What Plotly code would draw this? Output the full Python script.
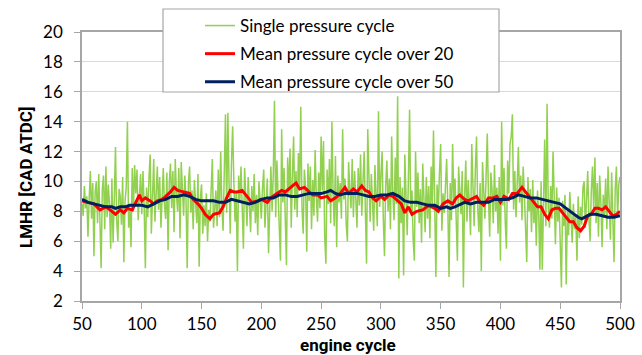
import plotly.graph_objects as go

# ---------------- data ----------------
cycle_start = 50
single = [
    8.5, 7.7, 9.7, 8.2, 9.0, 6.3, 8.8, 10.7, 7.5, 9.9,
    5.0, 9.3, 10.0, 7.2, 10.5, 8.0, 4.2, 9.5, 10.4, 6.8,
    11.0, 7.6, 9.8, 8.4, 5.5, 10.2, 5.9, 8.8, 12.3, 7.4,
    6.0, 9.5, 9.0, 7.1, 10.3, 4.6, 8.7, 9.6, 14.0, 6.9,
    8.2, 5.6, 10.9, 8.0, 11.1, 9.2, 10.8, 7.4, 9.5, 10.5,
    7.8, 10.7, 8.3, 4.2, 9.6, 7.6, 10.2, 11.8, 6.5, 9.0,
    11.5, 7.3, 9.8, 11.0, 8.1, 10.3, 6.9, 9.7, 10.9, 8.4,
    7.5, 10.6, 5.4, 9.9, 11.2, 8.2, 10.7, 6.6, 11.5, 9.1,
    8.0, 10.9, 6.2, 11.3, 9.5, 7.7, 10.4, 8.8, 4.2, 9.9,
    11.0, 7.9, 9.4, 6.8, 10.1, 8.6, 7.2, 10.5, 4.3, 8.9,
    9.8, 6.5, 8.4, 7.0, 9.2, 6.0, 8.1, 7.3, 9.0, 11.5,
    6.9, 8.6, 9.4, 7.0, 10.8, 7.6, 12.0, 8.3, 6.7, 10.6,
    14.5, 7.9, 14.6, 9.8, 6.5, 11.2, 13.7, 10.0, 7.3, 9.4,
    4.0, 10.4, 8.6, 11.0, 7.8, 5.5, 10.9, 9.2, 7.0, 10.3,
    8.4, 6.6, 9.7, 8.0, 10.5, 7.2, 9.1, 6.4, 10.0, 8.8,
    7.5, 9.6, 10.8, 6.9, 8.5, 10.2, 5.2, 9.3, 11.0, 8.0,
    10.5, 15.4, 7.6, 11.4, 9.0, 6.8, 4.7, 13.5, 8.6, 10.9,
    7.4, 4.4, 11.6, 9.2, 12.2, 6.9, 10.4, 13.0, 8.1, 10.7,
    7.6, 11.9, 9.4, 15.0, 8.3, 6.5, 10.8, 9.6, 5.3, 11.2,
    8.7, 11.0, 6.8, 10.1, 7.7, 12.1, 9.0, 7.3, 10.6, 8.2,
    13.0, 9.4, 12.7, 6.3, 4.5, 10.8, 8.5, 11.5, 7.2, 14.0,
    9.3, 7.0, 11.7, 5.6, 10.4, 8.6, 9.9, 7.5, 13.5, 8.8,
    10.2, 7.1, 6.0, 11.3, 9.5, 8.2, 11.5, 7.6, 10.7, 9.0,
    6.9, 10.9, 8.4, 11.8, 7.7, 9.9, 12.0, 8.1, 4.5, 13.5,
    9.2, 7.3, 10.5, 8.6, 6.7, 11.1, 9.4, 7.0, 14.7, 8.3,
    10.4, 12.0, 7.6, 5.0, 9.7, 11.4, 8.0, 10.2, 6.8, 13.0,
    9.1, 7.4, 11.6, 8.5, 15.7, 3.5, 10.3, 7.2, 9.6, 3.7,
    11.8, 8.9, 6.4, 10.1, 14.8, 7.8, 9.4, 6.1, 4.7, 12.0,
    8.3, 10.6, 7.2, 9.5, 5.9, 11.2, 8.0, 6.6, 10.3, 7.5,
    9.7, 6.2, 11.0, 8.4, 13.4, 7.0, 3.6, 9.8, 8.1, 10.6,
    12.5, 6.7, 9.2, 7.9, 10.4, 11.5, 8.3, 3.6, 9.9, 7.4,
    12.5, 8.6, 10.2, 6.9, 4.7, 11.0, 9.3, 7.8, 10.7, 2.9,
    9.0, 11.4, 7.3, 10.1, 8.5, 6.4, 12.5, 9.7, 7.0, 10.8,
    13.0, 8.2, 6.6, 9.9, 4.0, 11.3, 8.7, 7.5, 10.4, 13.2,
    8.9, 6.3, 10.6, 9.4, 7.2, 11.1, 8.0, 9.6, 6.5, 10.3,
    4.7, 14.0, 8.4, 10.9, 7.3, 5.5, 11.4, 9.2, 12.5, 13.0,
    14.5, 8.1, 10.7, 7.6, 9.8, 12.3, 8.6, 10.4, 7.4, 11.0,
    9.2, 6.8, 4.6, 10.3, 8.0, 9.5, 6.6, 10.1, 7.2, 8.8,
    5.7, 9.4, 7.8, 4.1, 10.0, 4.1, 8.5, 12.8, 7.0, 15.2,
    8.3, 6.9, 9.7, 7.5, 12.0, 8.2, 5.8, 9.6, 7.3, 8.9,
    6.5, 2.9, 8.7, 7.0, 9.1, 3.1, 8.0, 6.4, 9.3, 7.0,
    5.9, 8.5, 6.8, 7.6, 4.7, 9.0, 6.2, 8.3, 7.1, 9.6,
    10.0, 6.9, 8.8, 10.7, 7.5, 6.0, 9.4, 11.0, 8.1, 11.6,
    7.2, 9.9, 6.3, 10.4, 8.6, 5.6, 9.1, 7.7, 10.2, 6.8,
    11.0, 8.4, 6.1, 10.6, 7.3, 4.6, 9.5, 11.0, 7.6, 9.8,
    10.3,
]
single_cycles = list(range(cycle_start, cycle_start + len(single)))

mean20_cycles = [50, 55, 60, 65, 70, 75, 78, 82, 85, 88, 92, 95, 98, 100, 103, 107,
                 110, 113, 117, 120, 124, 127, 130, 135, 140, 143, 147, 150, 153, 157,
                 160, 165, 168, 171, 174, 177, 180, 184, 188, 192, 197, 200, 205, 208,
                 213, 217, 220, 225, 229, 232, 236, 240, 243, 247, 250, 255, 258, 262,
                 266, 270, 273, 277, 280, 284, 287, 290, 293, 296, 300, 303, 307, 310,
                 313, 317, 320, 323, 326, 330, 335, 340, 345, 348, 352, 356, 360, 363,
                 366, 370, 373, 377, 380, 383, 386, 390, 394, 397, 400, 403, 407, 410,
                 414, 418, 421, 424, 428, 431, 434, 437, 440, 443, 446, 449, 452, 455,
                 458, 461, 464, 467, 470, 473, 476, 479, 482, 485, 488, 491, 494, 497, 500]
mean20 = [8.7, 8.6, 8.5, 8.1, 8.3, 8.0, 7.8, 8.1, 7.9, 8.2, 8.1, 8.6, 9.1, 8.7, 8.9, 8.7,
          8.5, 8.7, 8.8, 9.0, 9.3, 9.6, 9.4, 9.3, 9.2, 8.8, 8.5, 8.2, 7.8, 7.5,
          7.8, 7.9, 8.3, 8.9, 9.4, 9.3, 9.3, 9.4, 9.0, 8.6, 8.7, 8.8, 8.6, 8.9,
          9.2, 9.4, 9.3, 9.6, 9.9, 9.5, 9.6, 9.3, 9.1, 9.1, 8.9, 9.0, 8.7, 8.9,
          9.2, 9.6, 9.2, 9.5, 9.3, 9.7, 9.4, 9.3, 8.9, 8.7, 9.0, 8.8, 9.1, 9.0,
          8.8, 8.5, 7.9, 8.3, 7.8, 8.0, 8.1, 8.4, 8.2, 8.0, 8.5, 8.7, 8.5, 8.9,
          9.1, 8.8, 8.7, 8.9, 9.0, 8.6, 8.4, 8.9, 8.9, 9.0, 8.6, 9.0, 8.8, 9.2,
          9.2, 9.6, 9.3, 9.0, 8.6, 8.3, 8.3, 7.8, 7.5, 8.1, 8.2, 8.2, 7.9, 7.6,
          7.3, 7.3, 6.9, 6.7, 7.0, 7.7, 7.8, 8.2, 8.2, 8.1, 8.3, 8.0, 7.7, 7.8, 8.0]

mean50_cycles = [50, 55, 60, 65, 70, 75, 78, 82, 86, 90, 95, 100, 105, 110, 115, 120,
                 125, 130, 135, 140, 145, 150, 155, 160, 165, 170, 175, 180, 185, 190,
                 195, 200, 205, 210, 215, 220, 225, 230, 235, 240, 245, 250, 255, 258,
                 262, 266, 270, 275, 280, 285, 290, 295, 300, 305, 310, 315, 320, 325,
                 330, 335, 340, 345, 350, 355, 358, 362, 365, 370, 375, 380, 385, 390,
                 395, 400, 405, 410, 415, 420, 425, 430, 435, 440, 445, 450, 455, 460,
                 465, 468, 472, 475, 480, 485, 490, 495, 500]
mean50 = [8.8, 8.6, 8.5, 8.4, 8.3, 8.3, 8.2, 8.3, 8.3, 8.4, 8.4, 8.4, 8.3, 8.5, 8.7, 8.8,
          9.0, 9.0, 9.1, 9.0, 8.8, 8.7, 8.7, 8.7, 8.6, 8.6, 8.8, 8.7, 8.6, 8.5,
          8.6, 8.8, 8.9, 8.9, 9.1, 9.1, 9.0, 9.0, 9.1, 9.2, 9.2, 9.2, 9.3, 9.4,
          9.2, 9.1, 9.2, 9.2, 9.2, 9.1, 9.0, 9.0, 9.1, 9.1, 9.2, 9.0, 8.7, 8.6,
          8.6, 8.5, 8.4, 8.4, 8.2, 8.3, 8.2, 8.3, 8.4, 8.6, 8.5, 8.6, 8.6, 8.6,
          8.8, 8.8, 8.8, 8.9, 9.1, 9.0, 8.9, 8.9, 8.8, 8.7, 8.6, 8.5, 8.2, 7.9,
          7.6, 7.5, 7.7, 7.8, 7.8, 7.7, 7.6, 7.6, 7.7]

series_names = ["Single pressure cycle", "Mean pressure cycle over 20", "Mean pressure cycle over 50"]
x_title = "engine cycle"
y_title = "LMHR [CAD ATDC]"
x_ticks = [50, 100, 150, 200, 250, 300, 350, 400, 450, 500]
y_ticks = [2, 4, 6, 8, 10, 12, 14, 16, 18, 20]

# ---------------- figure ----------------
FONT = "Lato"
TFONT = "Roboto"
fig = go.Figure()
fig.add_trace(go.Scatter(x=single_cycles, y=single, mode="lines", name=series_names[0],
                         legendgroup="a", line=dict(color="#92D050", width=1.5)))
fig.add_trace(go.Scatter(x=mean20_cycles, y=mean20, mode="lines", name=series_names[1],
                         legendgroup="b", line=dict(color="#FF0000", width=3)))
fig.add_trace(go.Scatter(x=mean50_cycles, y=mean50, mode="lines", name=series_names[2],
                         legendgroup="c", line=dict(color="#002060", width=3)))

L, R, T, B = 82, 22, 32, 54
W, H = 642, 355
pw, ph = W - L - R, H - T - B

def px_x(p):
    return (p - L) / pw

def px_y(p):
    return (H - B - p) / ph

fig.update_layout(
    width=W, height=H,
    margin=dict(l=L, r=R, t=T, b=B, pad=0, autoexpand=False),
    paper_bgcolor="white", plot_bgcolor="white",
    font=dict(family=FONT, color="#000000"),
    showlegend=True,
    legend=dict(x=px_x(200), y=px_y(8), xanchor="left", yanchor="top",
                bgcolor="rgba(0,0,0,0)", borderwidth=0,
                font=dict(family=FONT, size=17, color="#000000"),
                tracegroupgap=3, itemwidth=30),
    shapes=[dict(type="rect", xref="paper", yref="paper",
                 x0=px_x(163), x1=px_x(499), y0=px_y(92), y1=px_y(9),
                 fillcolor="white", line=dict(color="#A6A6A6", width=1.2),
                 layer="above")],
    annotations=[
        dict(text=x_title, xref="paper", yref="paper", x=px_x(348), y=px_y(345),
             xanchor="center", yanchor="middle", showarrow=False,
             font=dict(family=TFONT, size=17, weight="bold", color="#000000")),
        dict(text=y_title, xref="paper", yref="paper", x=px_x(26), y=px_y(178),
             xanchor="center", yanchor="middle", showarrow=False, textangle=-90,
             font=dict(family=TFONT, size=17, weight="bold", color="#000000")),
    ],
    xaxis=dict(range=[50, 500], tickvals=x_ticks, ticks="outside", ticklen=6,
               tickcolor="#A6A6A6", showgrid=False, zeroline=False, automargin=False,
               showline=True, linecolor="#A6A6A6", linewidth=1.5, mirror=True,
               tickfont=dict(family=FONT, size=17), ticklabelstandoff=1),
    yaxis=dict(range=[2, 20], tickvals=y_ticks, ticks="outside", ticklen=6,
               tickcolor="#A6A6A6", showgrid=True, gridcolor="#D9D9D9", gridwidth=1.2,
               zeroline=False, showline=True, linecolor="#A6A6A6", linewidth=1.5,
               mirror=True, tickfont=dict(family=FONT, size=17), ticklabelstandoff=8,
               automargin=False),
)

fig.write_html("out.html")
